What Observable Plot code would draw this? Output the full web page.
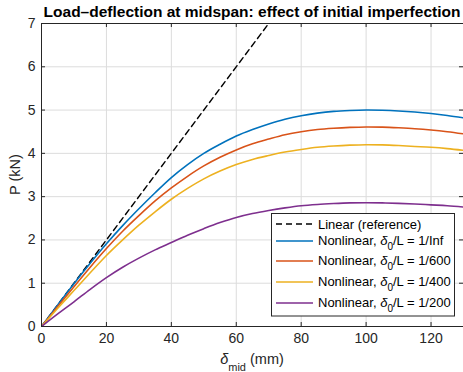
<!DOCTYPE html>
<html><head><meta charset="utf-8">
<script src="https://cdn.jsdelivr.net/npm/d3@7"></script>
<script src="https://cdn.jsdelivr.net/npm/@observablehq/plot@0.6"></script>
<style>
body{margin:0;background:#fff;}
#chart{width:463px;height:372px;overflow:hidden;}
</style></head><body><div id="chart"></div>
<script>
const deflection = [0,5,10,15,20,25,30,35,40,45,50,55,60,65,70,75,80,85,90,95,100,105,110,115,120,125,130];
const pInf = [0,0.50,0.99,1.46,1.91,2.33,2.72,3.09,3.44,3.74,4.00,4.21,4.40,4.55,4.68,4.79,4.87,4.93,4.97,4.99,5.00,4.995,4.98,4.955,4.92,4.875,4.82];
const p600 = [0,0.46,0.92,1.37,1.80,2.20,2.56,2.90,3.20,3.47,3.71,3.91,4.08,4.22,4.33,4.43,4.50,4.55,4.58,4.60,4.61,4.605,4.59,4.57,4.54,4.50,4.45];
const p400 = [0,0.42,0.83,1.24,1.64,2.00,2.34,2.65,2.94,3.19,3.41,3.59,3.74,3.86,3.95,4.03,4.09,4.14,4.17,4.19,4.20,4.195,4.18,4.16,4.14,4.11,4.07];
const p200 = [0,0.29,0.57,0.86,1.13,1.37,1.58,1.77,1.94,2.11,2.26,2.40,2.52,2.61,2.68,2.74,2.79,2.82,2.84,2.855,2.86,2.855,2.845,2.83,2.81,2.79,2.76];
const linearDeflection = [0, 70];
const linearP = [0, 7];
const imperfections = ["1/Inf", "1/600", "1/400", "1/200"];
const colors = ["#0072BD", "#D95319", "#EDB120", "#7E2F8E"];
const xTicks = [0, 20, 40, 60, 80, 100, 120];
const yTicks = [0, 1, 2, 3, 4, 5, 6, 7];
const titleText = "Load–deflection at midspan: effect of initial imperfection";

const W = 463, H = 372, mL = 41, mR = 0, mT = 23, mB = 46;
const innerW = W - mL - mR, innerH = H - mT - mB;
const FONT = "'Liberation Sans', Arial, Helvetica, sans-serif";
const INK = "#262626";

const seriesValues = [pInf, p600, p400, p200];
const rows = [];
seriesValues.forEach((vals, i) => {
  vals.forEach((p, j) => rows.push({s: imperfections[i], x: deflection[j], p}));
});
const linRows = linearDeflection.map((x, i) => ({x, p: linearP[i]}));

const plot = Plot.plot({
  width: W, height: H,
  marginLeft: mL, marginRight: mR, marginTop: mT, marginBottom: mB,
  style: {fontFamily: FONT, fontSize: "14px", color: INK, background: "#fff", overflow: "visible"},
  x: {domain: [0, 130], axis: null},
  y: {domain: [0, 7], axis: null},
  color: {domain: imperfections, range: colors},
  marks: [
    Plot.gridX(xTicks, {stroke: "#dcdcdc", strokeOpacity: 1, strokeWidth: 1}),
    Plot.gridY(yTicks, {stroke: "#dcdcdc", strokeOpacity: 1, strokeWidth: 1}),
    Plot.line(linRows, {x: "x", y: "p", stroke: "#000", strokeWidth: 1.4, strokeDasharray: "6,4", clip: true}),
    Plot.line(rows, {x: "x", y: "p", z: "s", stroke: "s", strokeWidth: 1.6, curve: "catmull-rom", clip: true}),
    Plot.ruleX([0], {stroke: INK, strokeWidth: 1}),
    Plot.ruleY([0], {stroke: INK, strokeWidth: 1}),
    Plot.ruleY([7], {stroke: INK, strokeWidth: 1}),
    Plot.tickX(xTicks, {x: d => d, stroke: INK, insetTop: innerH - 4}),
    Plot.tickX(xTicks, {x: d => d, stroke: INK, insetBottom: innerH - 4}),
    Plot.tickY(yTicks, {y: d => d, stroke: INK, insetRight: innerW - 4}),
    Plot.tickY(yTicks, {y: d => d, stroke: INK, insetLeft: innerW - 4}),
    Plot.axisX(xTicks, {tickSize: 0, tickPadding: 7, fill: INK, fontSize: 14, label: null}),
    Plot.axisY(yTicks, {tickSize: 0, tickPadding: 6, fill: INK, fontSize: 14, label: null})
  ]
});
document.getElementById("chart").appendChild(plot);

const svg = d3.select(plot);
const cx = mL + innerW / 2;
// title
svg.append("text").attr("x", cx).attr("y", 17).attr("text-anchor", "middle")
  .attr("font-family", FONT).attr("font-size", 15.5).attr("font-weight", "bold").attr("fill", "#000")
  .text(titleText);
// y label
svg.append("text").attr("transform", `translate(20,${mT + innerH / 2}) rotate(-90)`)
  .attr("text-anchor", "middle").attr("font-family", FONT).attr("font-size", 14.5).attr("fill", INK)
  .text("P (kN)");
// x label
const xl = svg.append("text").attr("x", cx).attr("y", 364).attr("text-anchor", "middle")
  .attr("font-family", FONT).attr("font-size", 14.5).attr("fill", INK);
xl.append("tspan").attr("font-style", "italic").text("δ");
xl.append("tspan").attr("font-size", 11).attr("dy", 7).text("mid");
xl.append("tspan").attr("dy", -7).text(" (mm)");

// legend
const lg = svg.append("g").attr("font-family", FONT).attr("font-size", 13).attr("fill", "#000")
  .attr("text-anchor", "start");
lg.append("rect").attr("x", 271.5).attr("y", 213.5).attr("width", 183).attr("height", 102.5)
  .attr("fill", "#fff").attr("stroke", "#262626").attr("stroke-width", 1);
const rowY = [224, 241, 261, 282, 303];
const x0 = 276, x1 = 313, tx = 318;
lg.append("line").attr("x1", x0).attr("x2", x1).attr("y1", rowY[0]).attr("y2", rowY[0])
  .attr("stroke", "#000").attr("stroke-width", 1.4).attr("stroke-dasharray", "6,4");
lg.append("text").attr("x", tx).attr("y", rowY[0] + 4.5).attr("text-anchor", "start").text("Linear (reference)");
imperfections.forEach((lab, i) => {
  const y = rowY[i + 1];
  lg.append("line").attr("x1", x0).attr("x2", x1).attr("y1", y).attr("y2", y)
    .attr("stroke", colors[i]).attr("stroke-width", 1.6);
  const t = lg.append("text").attr("x", tx).attr("y", y + 4).attr("text-anchor", "start");
  t.append("tspan").text("Nonlinear, ");
  t.append("tspan").attr("font-style", "italic").text("δ");
  t.append("tspan").attr("font-size", 10).attr("dy", 5).text("0");
  t.append("tspan").attr("dy", -5).text("/L = " + lab);
});
</script>
</body></html>
